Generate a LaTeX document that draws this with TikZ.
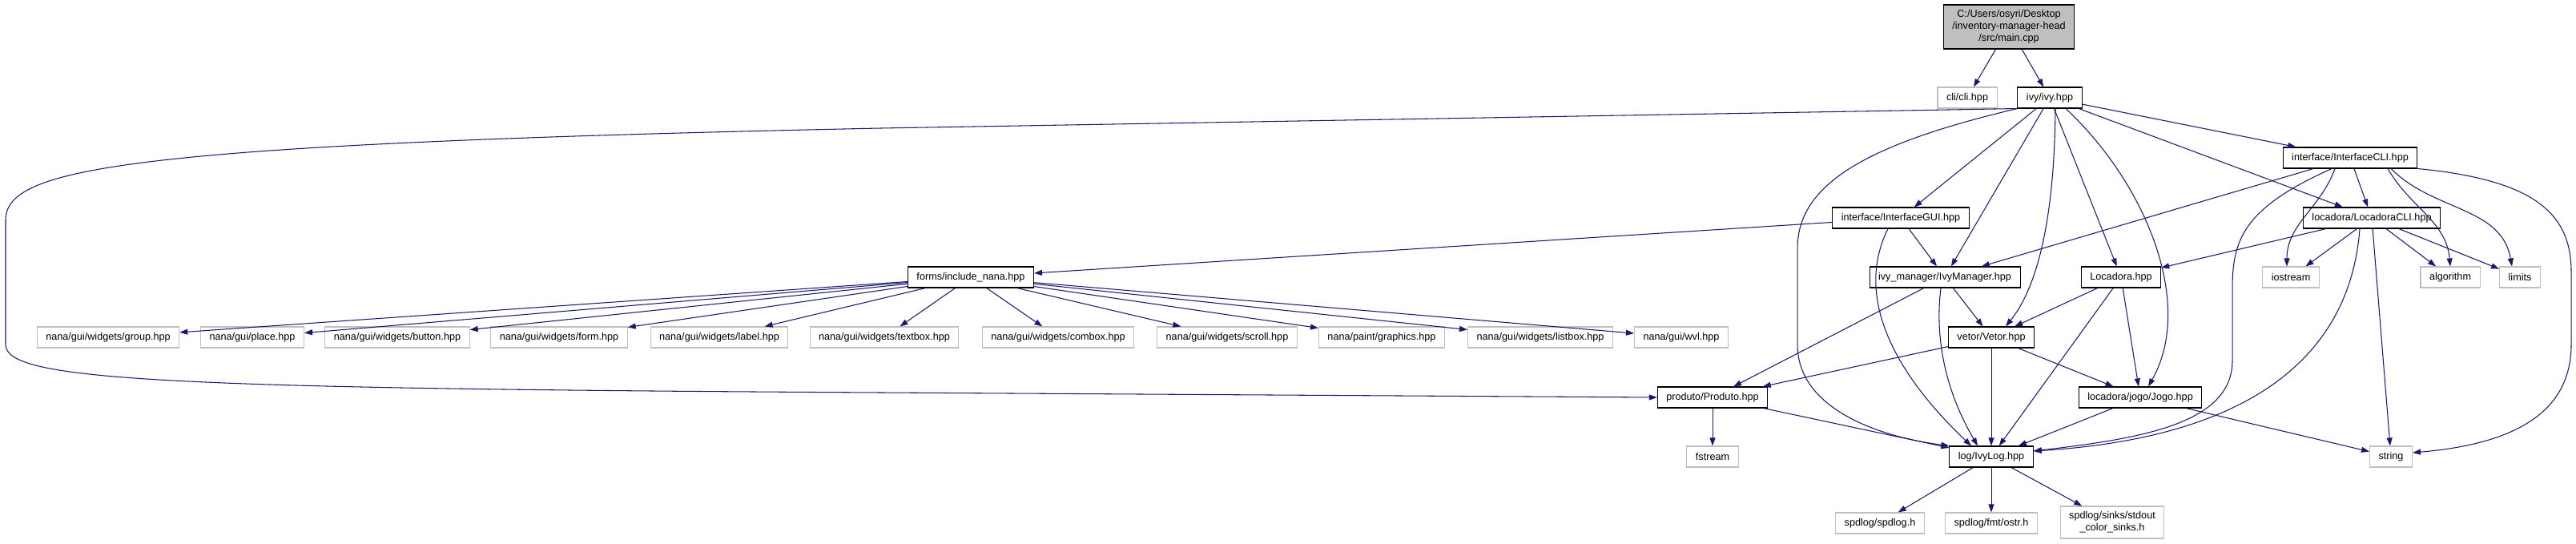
\documentclass[tikz,border=0pt]{standalone}
\usepackage{fontspec}
\setmainfont{Liberation Sans}
\usetikzlibrary{arrows.meta}
\definecolor{depblue}{HTML}{191970}
\definecolor{boxgrey}{HTML}{BFBFBF}

\begin{document}
\begin{tikzpicture}[
    hdr/.style={
        rectangle, draw=black, line width=0.6pt, fill=white,
        minimum height=0.52cm, inner xsep=0.22cm, inner ysep=0pt,
        font=\fontsize{7.2}{8.5}\selectfont
    },
    sys/.style={hdr, draw=boxgrey},
    root/.style={hdr, fill=boxgrey, align=center, minimum width=3.24cm, minimum height=1.1cm},
    dep/.style={color=depblue, line width=0.6pt, -{Triangle[length=0.2cm, width=0.14cm]}},
]
\useasboundingbox (0,0) rectangle (64.32,-13.58);

% main file (top)
\node[root] (main) at (50.16,-0.67) {C:/Users/osyri/Desktop\\/inventory-manager-head\\/src/main.cpp};

% first level
\node[sys] (cli) at (49.12,-2.44) {cli/cli.hpp};
\node[hdr] (ivy) at (51.18,-2.44) {ivy/ivy.hpp};

% interfaces
\node[hdr] (icli) at (58.68,-3.94) {interface/InterfaceCLI.hpp};
\node[hdr] (igui) at (47.46,-5.44) {interface/InterfaceGUI.hpp};
\node[hdr] (lcli) at (59.22,-5.44) {locadora/LocadoraCLI.hpp};

% middle row
\node[hdr] (nana) at (24.24,-6.92) {forms/include\_nana.hpp};
\node[hdr] (mgr) at (48.56,-6.92) {ivy\_manager/IvyManager.hpp};
\node[hdr] (loc) at (52.96,-6.92) {Locadora.hpp};
\node[sys] (iostream) at (57.20,-6.92) {iostream};
\node[sys] (algorithm) at (61.18,-6.92) {algorithm};
\node[sys] (limits) at (62.92,-6.92) {limits};

% nana headers
\node[sys] (group) at (2.70,-8.42) {nana/gui/widgets/group.hpp};
\node[sys] (place) at (6.30,-8.42) {nana/gui/place.hpp};
\node[sys] (button) at (9.92,-8.42) {nana/gui/widgets/button.hpp};
\node[sys] (form) at (13.96,-8.42) {nana/gui/widgets/form.hpp};
\node[sys] (label) at (17.96,-8.42) {nana/gui/widgets/label.hpp};
\node[sys] (textbox) at (22.08,-8.42) {nana/gui/widgets/textbox.hpp};
\node[sys] (combox) at (26.42,-8.42) {nana/gui/widgets/combox.hpp};
\node[sys] (scroll) at (30.64,-8.42) {nana/gui/widgets/scroll.hpp};
\node[sys] (graphics) at (34.50,-8.42) {nana/paint/graphics.hpp};
\node[sys] (listbox) at (38.46,-8.42) {nana/gui/widgets/listbox.hpp};
\node[sys] (wvl) at (41.98,-8.42) {nana/gui/wvl.hpp};
\node[hdr] (vetor) at (49.72,-8.42) {vetor/Vetor.hpp};

% lower rows
\node[hdr] (produto) at (42.76,-9.92) {produto/Produto.hpp};
\node[hdr] (jogo) at (53.44,-9.92) {locadora/jogo/Jogo.hpp};
\node[sys] (fstream) at (42.76,-11.40) {fstream};
\node[hdr] (ivylog) at (49.72,-11.40) {log/IvyLog.hpp};
\node[sys] (string) at (59.70,-11.40) {string};
\node[sys] (spdlog) at (46.94,-13.06) {spdlog/spdlog.h};
\node[sys] (ostr) at (49.72,-13.06) {spdlog/fmt/ostr.h};
\node[sys, align=center, minimum height=0.8cm] (sinks) at (52.74,-13.04) {spdlog/sinks/stdout\\\_color\_sinks.h};

% main.cpp
\draw[dep] (main) -- (cli);
\draw[dep] (main) -- (ivy);

% ivy.hpp
\draw[dep] (ivy) -- (icli);
\draw[dep] (ivy) -- (lcli);
\draw[dep] (ivy) -- (igui);
\draw[dep] (ivy) -- (mgr);
\draw[dep] (ivy) -- (loc);
\draw[dep] ([xshift=0.14cm]ivy.south) .. controls (51.3,-5.0) and (51.0,-7.0) .. ([xshift=0.36cm]vetor.north);
\draw[dep] ([xshift=0.4cm]ivy.south) .. controls (53.6,-4.6) and (54.8,-7.6) .. ([xshift=0.2cm]jogo.north);
\draw[dep] (ivy.south west) .. controls (46.6,-3.6) and (44.88,-4.6) .. (44.88,-6.2)
    -- (44.88,-8.6) .. controls (44.88,-10.2) and (46.9,-10.9) .. (ivylog.north west);
\draw[dep] (ivy.south west) -- (22,-3.2) .. controls (3,-3.6) and (0.14,-4.2) .. (0.14,-5.5)
    -- (0.14,-8.6) .. controls (0.14,-9.5) and (4,-9.7) .. (22,-9.8) -- (produto.west);

% InterfaceGUI
\draw[dep] (igui) -- (nana);
\draw[dep] (igui) -- (mgr);
\draw[dep] ([xshift=-0.32cm]igui.south) .. controls (46.2,-7.6) and (47.6,-9.6) .. ([xshift=-0.5cm]ivylog.north);

% InterfaceCLI
\draw[dep] (icli) -- (mgr);
\draw[dep] (icli) -- (lcli);
\draw[dep] ([xshift=-0.38cm]icli.south) to[out=-110, in=90] ([xshift=-0.1cm]iostream.north);
\draw[dep] ([xshift=0.94cm]icli.south) to[out=-60, in=95] (algorithm.north);
\draw[dep] ([xshift=1.02cm]icli.south) to[out=-45, in=100] ([xshift=-0.2cm]limits.north);
\draw[dep] ([xshift=-0.46cm]icli.south) .. controls (56.0,-5.2) and (55.74,-6.0) .. (55.74,-7.2)
    -- (55.74,-9.0) .. controls (55.74,-10.6) and (53.4,-10.95) .. ([yshift=0.14cm]ivylog.east);
\draw[dep] (icli.south east) .. controls (63.4,-4.5) and (64.2,-5.4) .. (64.2,-6.8)
    -- (64.2,-8.6) .. controls (64.2,-10.4) and (62.6,-11.1) .. ([yshift=0.1cm]string.east);

% LocadoraCLI
\draw[dep] (lcli) -- (loc);
\draw[dep] (lcli) -- (iostream);
\draw[dep] (lcli) -- (algorithm);
\draw[dep] (lcli) -- (limits);
\draw[dep] (lcli) -- (string);
\draw[dep] ([xshift=-0.3cm]lcli.south) .. controls (58.7,-8.6) and (56.6,-10.9) .. ([yshift=0.14cm]ivylog.east);

% IvyManager, Locadora, Vetor
\draw[dep] (mgr) -- (produto);
\draw[dep] (mgr) -- (vetor);
\draw[dep] ([xshift=-0.1cm]mgr.south) .. controls (48.3,-8.5) and (48.6,-9.8) .. ([xshift=-0.34cm]ivylog.north);
\draw[dep] (loc) -- (vetor);
\draw[dep] (loc) -- (ivylog);
\draw[dep] (loc) -- (jogo);
\draw[dep] (vetor) -- (produto);
\draw[dep] (vetor) -- (ivylog);
\draw[dep] (vetor) -- (jogo);

% Produto, Jogo
\draw[dep] (produto) -- (fstream);
\draw[dep] (produto) -- (ivylog);
\draw[dep] (jogo) -- (ivylog);
\draw[dep] (jogo) -- (string);

% IvyLog
\draw[dep] (ivylog) -- (spdlog);
\draw[dep] (ivylog) -- (ostr);
\draw[dep] (ivylog) -- (sinks);

% include_nana
\draw[dep] (nana) -- (group);
\draw[dep] (nana) -- (place);
\draw[dep] (nana) -- (button);
\draw[dep] (nana) -- (form);
\draw[dep] (nana) -- (label);
\draw[dep] (nana) -- (textbox);
\draw[dep] (nana) -- (combox);
\draw[dep] (nana) -- (scroll);
\draw[dep] (nana) -- (graphics);
\draw[dep] (nana) -- (listbox);
\draw[dep] (nana) -- (wvl);

\end{tikzpicture}
\end{document}
